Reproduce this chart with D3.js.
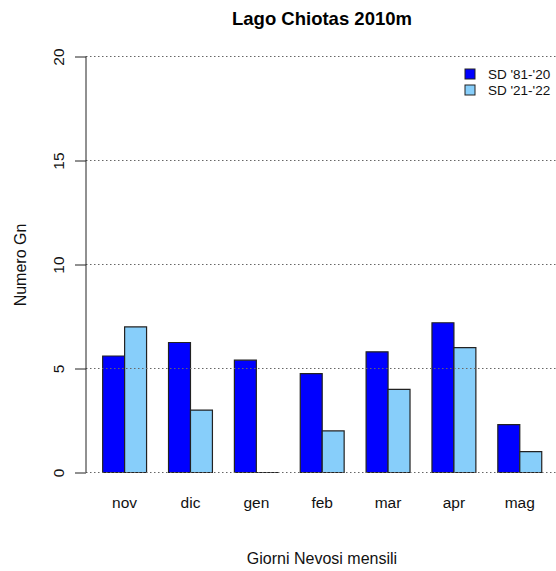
<!DOCTYPE html>
<html><head><meta charset="utf-8">
<script src="https://cdn.jsdelivr.net/npm/d3@7"></script>
<style>body{margin:0;background:#fff}svg{display:block;font-family:"Liberation Sans",Arial,sans-serif}</style>
</head><body><svg id="c" width="556" height="571"></svg>
<script>
const months = ["nov","dic","gen","feb","mar","apr","mag"];
const sd8120 = [5.6, 6.25, 5.4, 4.75, 5.8, 7.2, 2.3];
const sd2122 = [7, 3, 0, 2, 4, 6, 1];
const seriesNames = ["SD '81-'20", "SD '21-'22"];
const seriesColors = ["#0000FF", "#87CEFA"];
const yTicks = [0, 5, 10, 15, 20];

const svg = d3.select("#c");
const x = d3.scaleLinear().domain([0.2, 21.8]).range([85.1, 559.3]);
const y = d3.scaleLinear().domain([0, 20]).range([472.5, 56.5]);

// bars (paths so zero-height bars still show their outline)
const series = [sd8120, sd2122];
months.forEach((m, i) => {
  series.forEach((s, j) => {
    const u0 = 1 + i * 3 + j;
    const x0 = x(u0), x1 = x(u0 + 1), yt = y(s[i]), yb = y(0);
    svg.append("path")
      .attr("d", `M${x0},${yb}V${yt}H${x1}V${yb}Z`)
      .attr("fill", seriesColors[j]).attr("stroke", "#222").attr("stroke-width", 1.2);
  });
  svg.append("text").attr("x", x(2 + i * 3)).attr("y", 508)
    .attr("text-anchor", "middle").attr("font-size", 15.5).attr("fill", "#111").text(m);
});

// grid lines (drawn over bars)
yTicks.forEach(t => {
  svg.append("line").attr("x1", 86).attr("x2", 556)
    .attr("y1", y(t)).attr("y2", y(t))
    .attr("stroke", "#666").attr("stroke-width", 1).attr("stroke-dasharray", "1.5,2.5");
});

// y axis
const ax = svg.append("g").attr("transform", "translate(86,0)")
  .call(d3.axisLeft(y).tickValues(yTicks).tickSize(11).tickFormat(d3.format("d")));
ax.select(".domain").attr("d", `M0,${y(0)}V${y(20)}`).attr("stroke", "#222");
ax.selectAll(".tick line").attr("stroke", "#222");
ax.selectAll(".tick text").attr("font-size", 15.5).attr("fill", "#111")
  .attr("font-family", '"Liberation Sans",Arial,sans-serif')
  .attr("transform", "rotate(-90)").attr("x", 0).attr("dy", 0)
  .attr("y", -22).attr("text-anchor", "middle");

// title & labels
svg.append("text").attr("x", 322).attr("y", 25).attr("text-anchor", "middle")
  .attr("font-size", 18.5).attr("font-weight", "bold").attr("fill", "#000").text("Lago Chiotas 2010m");
svg.append("text").attr("x", 322).attr("y", 564).attr("text-anchor", "middle")
  .attr("font-size", 16).attr("fill", "#111").text("Giorni Nevosi mensili");
svg.append("text").attr("transform", "translate(26,265) rotate(-90)").attr("text-anchor", "middle")
  .attr("font-size", 16).attr("fill", "#111").text("Numero Gn");

// legend
seriesNames.forEach((n, j) => {
  svg.append("rect").attr("x", 465).attr("y", 69 + j * 16).attr("width", 10).attr("height", 10)
    .attr("fill", seriesColors[j]).attr("stroke", "#222").attr("stroke-width", 1);
  svg.append("text").attr("x", 488).attr("y", 78.5 + j * 16)
    .attr("font-size", 13.5).attr("fill", "#111").text(n);
});
</script></body></html>
